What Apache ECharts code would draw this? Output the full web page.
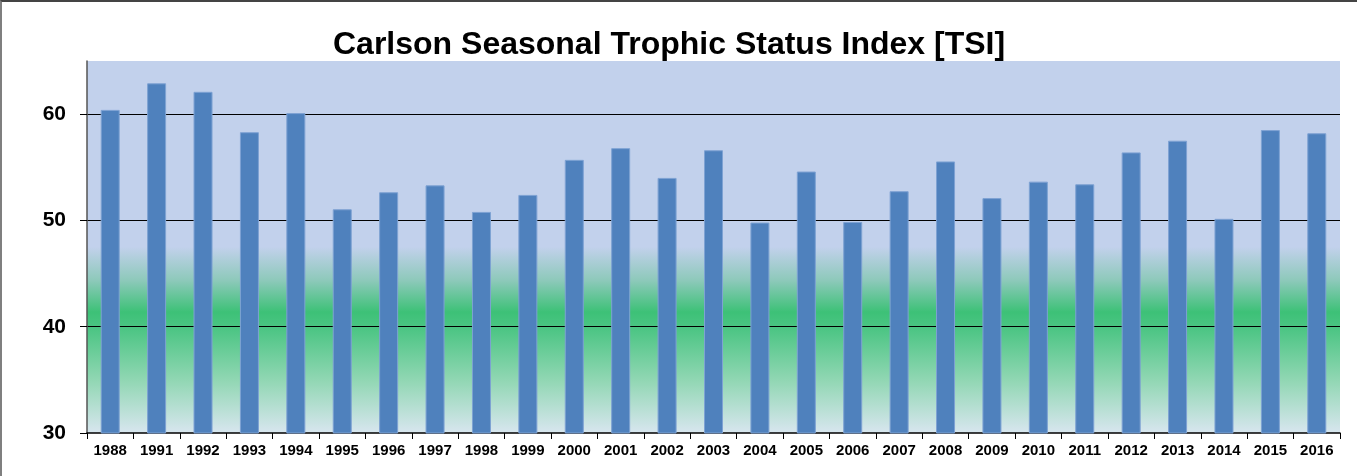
<!DOCTYPE html>
<html><head><meta charset="utf-8">
<script src="https://cdn.jsdelivr.net/npm/echarts@6/dist/echarts.min.js"></script>
<style>html,body{margin:0;padding:0;background:#fff}#c{width:1357px;height:476px;box-sizing:border-box;border-left:2px solid #7f7f7f;border-top:2px solid #444}</style>
</head><body><div id="c"></div>
<script>
const years = ['1988','1991','1992','1993','1994','1995','1996','1997','1998','1999','2000','2001','2002','2003','2004','2005','2006','2007','2008','2009','2010','2011','2012','2013','2014','2015','2016'];
const tsi = [60.4,62.9,62.1,58.3,60.1,51.05,52.65,53.3,50.8,52.4,55.7,56.8,54.0,56.6,49.8,54.6,49.85,52.75,55.55,52.1,53.65,53.4,56.4,57.5,50.15,58.5,58.2];
const yTicks = [30,40,50,60];

const chart = echarts.init(document.getElementById('c'));
chart.setOption({
  animation:false,
  title:{text:'Carlson Seasonal Trophic Status Index [TSI]',left:326,top:22,
    textStyle:{fontFamily:'Liberation Sans, Arial',fontWeight:'bold',fontSize:32,color:'#000'}},
  grid:{left:85,right:17,top:59,bottom:43,show:true,borderWidth:0,
    backgroundColor:new echarts.graphic.LinearGradient(0,0,0,1,[
      {offset:0,color:'#C2D1EC'},
      {offset:0.5,color:'#C2D1EC'},
      {offset:0.59,color:'#8DC9BA'},
      {offset:0.675,color:'#3DC177'},
      {offset:0.72,color:'#4CC584'},
      {offset:0.86,color:'#92D7B4'},
      {offset:1,color:'#D8E6EF'}])},
  xAxis:{type:'category',data:years,
    axisLine:{lineStyle:{color:'#000',width:1.5}},
    axisTick:{show:true,length:6,lineStyle:{color:'#000'}},
    axisLabel:{fontFamily:'Liberation Sans, Arial',fontWeight:'bold',fontSize:15,color:'#000',margin:10}},
  yAxis:{type:'value',min:30,max:65,interval:10,
    axisLine:{show:true,lineStyle:{color:'#555',width:1.5}},
    axisTick:{show:true,length:7,lineStyle:{color:'#000'},customValues:yTicks},
    axisLabel:{fontFamily:'Liberation Sans, Arial',fontWeight:'bold',fontSize:21,color:'#000',margin:21,
      customValues:yTicks},
    splitLine:{show:true,lineStyle:{color:['rgba(0,0,0,0)','#000','#000','#000','rgba(0,0,0,0)'],width:1.2}}},
  series:[{type:'bar',data:tsi,barWidth:19,
    itemStyle:{color:'#4F81BD',borderColor:'#7EA2D3',borderWidth:1}}]
});
</script></body></html>
